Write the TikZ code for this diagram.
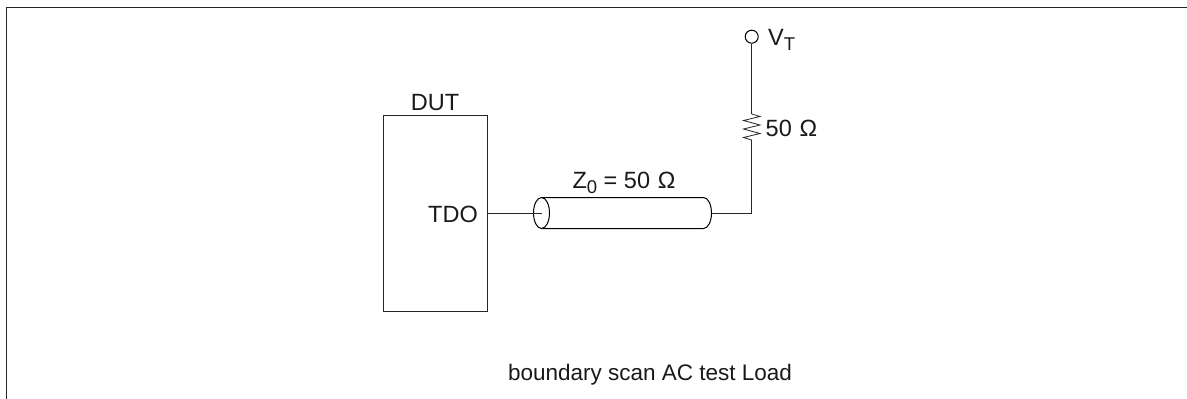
\documentclass[tikz,border=0pt]{standalone}
\usepackage{fontspec}
\setmainfont{Liberation Sans}
\tikzset{
  wire/.style={draw=black!85,line width=1pt},
  cable/.style={draw=black,line width=1pt},
  lbl/.style={inner sep=0pt,anchor=base,font=\fontsize{23.5pt}{25pt}\selectfont,text=black!90},
  term/.style={circle,draw=black,line width=1pt,minimum size=13pt,inner sep=0pt,fill=white}
}
\newcommand{\sbs}[1]{\raisebox{-0.22em}{\fontsize{18.5pt}{20pt}\selectfont #1}}
\begin{document}
\begin{tikzpicture}[x=1pt,y=-1pt]
\useasboundingbox (0,0) rectangle (1187,399);
\draw[wire] (6.5,399) -- (6.5,7.5) -- (1187,7.5);
\node[draw=black!85,line width=1pt,minimum width=103.5pt,minimum height=196.5pt,inner sep=0pt] (dut) at (435.25,213.25) {};
\node[lbl] (dutl) at (435,110.5) {DUT};
\node[lbl,anchor=base east] (tdo) at (478,222.5) {TDO};
\coordinate (tdoout) at (dut.east |- 0,213);
\coordinate (ca) at (541.5,213);
\coordinate (cb) at (711.5,213);
\coordinate (corner) at (751.7,213);
\coordinate (rb) at (751.7,140);
\coordinate (rt) at (751.7,114);
\node[term] (vt) at (751.7,36.7) {};
\node[lbl,anchor=base west] (vtl) at (768,45) {V\sbs{T}};
\node[lbl,anchor=base west] (r) at (765.5,136.5) {50\hspace{0.33em}Ω};
\node[lbl] (z) at (624,188.5) {Z\sbs{0} = 50\hspace{0.33em}Ω};
\node[lbl,font=\fontsize{22.5pt}{24pt}\selectfont] (cap) at (650,380) {boundary scan AC test Load};
\draw[cable] (541.5,197.5) -- (703.5,197.5) arc[start angle=-90,end angle=90,x radius=8,y radius=15.5] -- (541.5,228.5);
\draw[cable] (541.5,197.5) arc[start angle=-90,end angle=270,x radius=8,y radius=15.5];
\draw[wire] (tdoout) -- (ca);
\draw[wire] (cb) -- (corner) -- (rb);
\draw[wire] (vt) -- (rt);
\draw[black!85,line width=0.8pt] (rt) -- (760,116.5) -- (743.5,120.5) -- (760,125) -- (743.5,129) -- (760,133.5) -- (743.5,137.5) -- (rb);
\end{tikzpicture}
\end{document}
